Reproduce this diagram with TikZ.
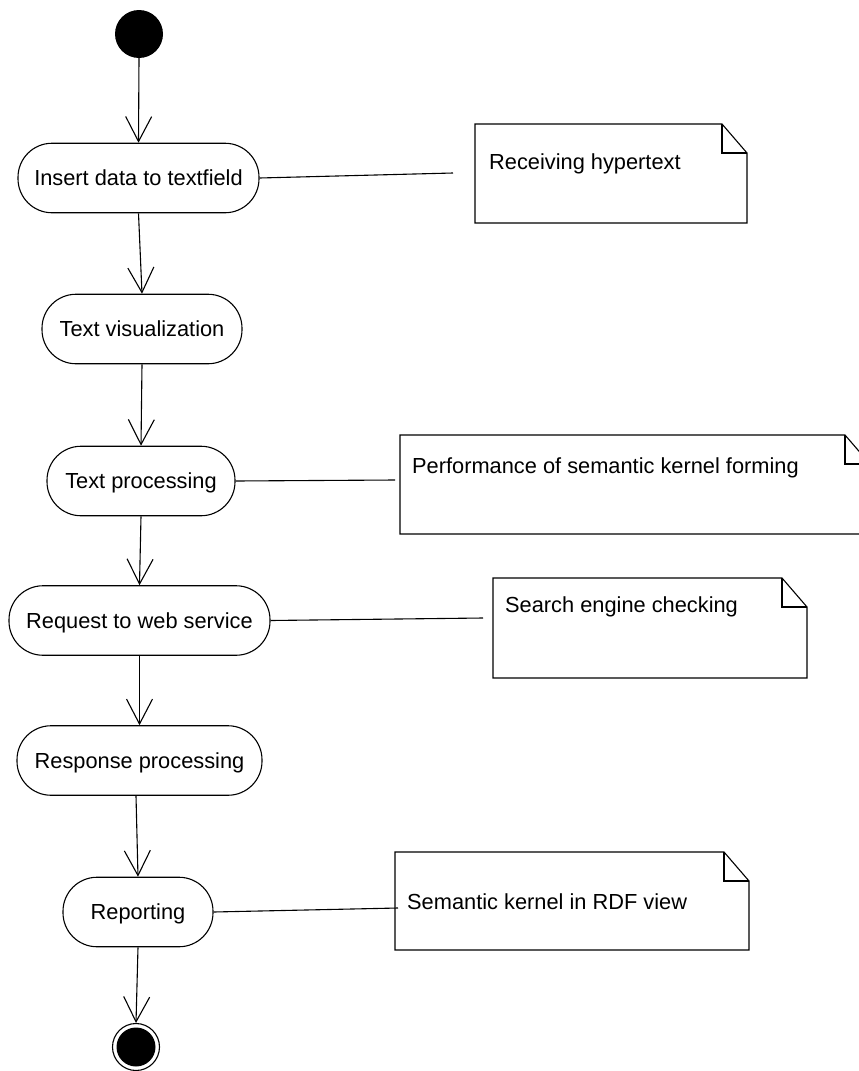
\documentclass[tikz,border=0pt]{standalone}
\usepackage{fontspec}
\setmainfont{Liberation Sans}
\usetikzlibrary{arrows.meta}
\begin{document}
\begin{tikzpicture}[x=1pt,y=-1pt,
  every node/.style={font=\fontsize{21.8}{26}\selectfont},
  action/.style={draw, line width=1.1pt, rounded corners=34pt,
    minimum height=69.5pt, text height=15.6pt, text depth=0pt, inner sep=0pt},
  note/.style={minimum height=99pt, inner sep=0pt, outer sep=0pt, anchor=north west},
  notetext/.style={anchor=base west, inner sep=0pt},
  flow/.style={line width=1.1pt, -{Straight Barb[length=25pt,width=26pt]}},
  link/.style={line width=1.1pt},
]
% canvas
\fill[white] (0,0) rectangle (859,1071);
\useasboundingbox (0,0) rectangle (859,1071);

% initial and final states
\node[circle, fill, minimum size=48pt, inner sep=0pt] (start) at (139,34) {};
\node[circle, draw, line width=1.1pt, minimum size=47pt, inner sep=0pt] (end) at (136,1047) {};
\node[circle, fill, minimum size=39pt, inner sep=0pt] (endcore) at (end.center) {};

% activities
\node[action, minimum width=241pt] (b1) at (138.5,178) {Insert data to textfield};
\node[action, minimum width=200pt] (b2) at (142,329) {Text visualization};
\node[action, minimum width=188pt] (b3) at (141,481) {Text processing};
\node[action, minimum width=261pt] (b4) at (139.5,620.5) {Request to web service};
\node[action, minimum width=245pt] (b5) at (139.5,760.5) {Response processing};
\node[action, minimum width=150pt] (b6) at (138,912) {Reporting};

% control flow
\draw[flow] (start.south) -- (b1.north);
\draw[flow] (b1.south) -- (b2.north);
\draw[flow] (b2.south) -- (b3.north);
\draw[flow] (b3.south) -- (b4.north);
\draw[flow] (b4.south) -- (b5.north);
\draw[flow] ([xshift=-3.5pt]b5.south) -- (b6.north);
\draw[flow] (b6.south) -- (end.north);

% comment notes
\node[note, minimum width=272pt] (n1) at (475,124) {};
\node[note, minimum width=470pt] (n2) at (400,435) {};
\node[note, minimum width=314pt, minimum height=100pt] (n3) at (493,578) {};
\node[note, minimum width=354pt, minimum height=98pt] (n4) at (395,852) {};
\foreach \n in {n1,n2,n3,n4}{
  \draw[link] (\n.north west) -- ([xshift=-25pt]\n.north east)
    -- ([yshift=-29pt]\n.north east) -- (\n.south east) -- (\n.south west) -- cycle;
  \draw[link] ([xshift=-25pt]\n.north east) |- ([yshift=-29pt]\n.north east);
}
\node[notetext] (t1) at (489,169) {Receiving hypertext};
\node[notetext] (t2) at (412,473) {Performance of semantic kernel forming};
\node[notetext] (t3) at (505,612) {Search engine checking};
\node[notetext] (t4) at (407,909) {Semantic kernel in RDF view};

% note anchors
\coordinate (c1) at (453,173);
\coordinate (c2) at (395,480);
\coordinate (c3) at (483,618);
\coordinate (c4) at (398,908);
\draw[link] (b1.east) -- (c1);
\draw[link] (b3.east) -- (c2);
\draw[link] (b4.east) -- (c3);
\draw[link] (b6.east) -- (c4);
\end{tikzpicture}
\end{document}
